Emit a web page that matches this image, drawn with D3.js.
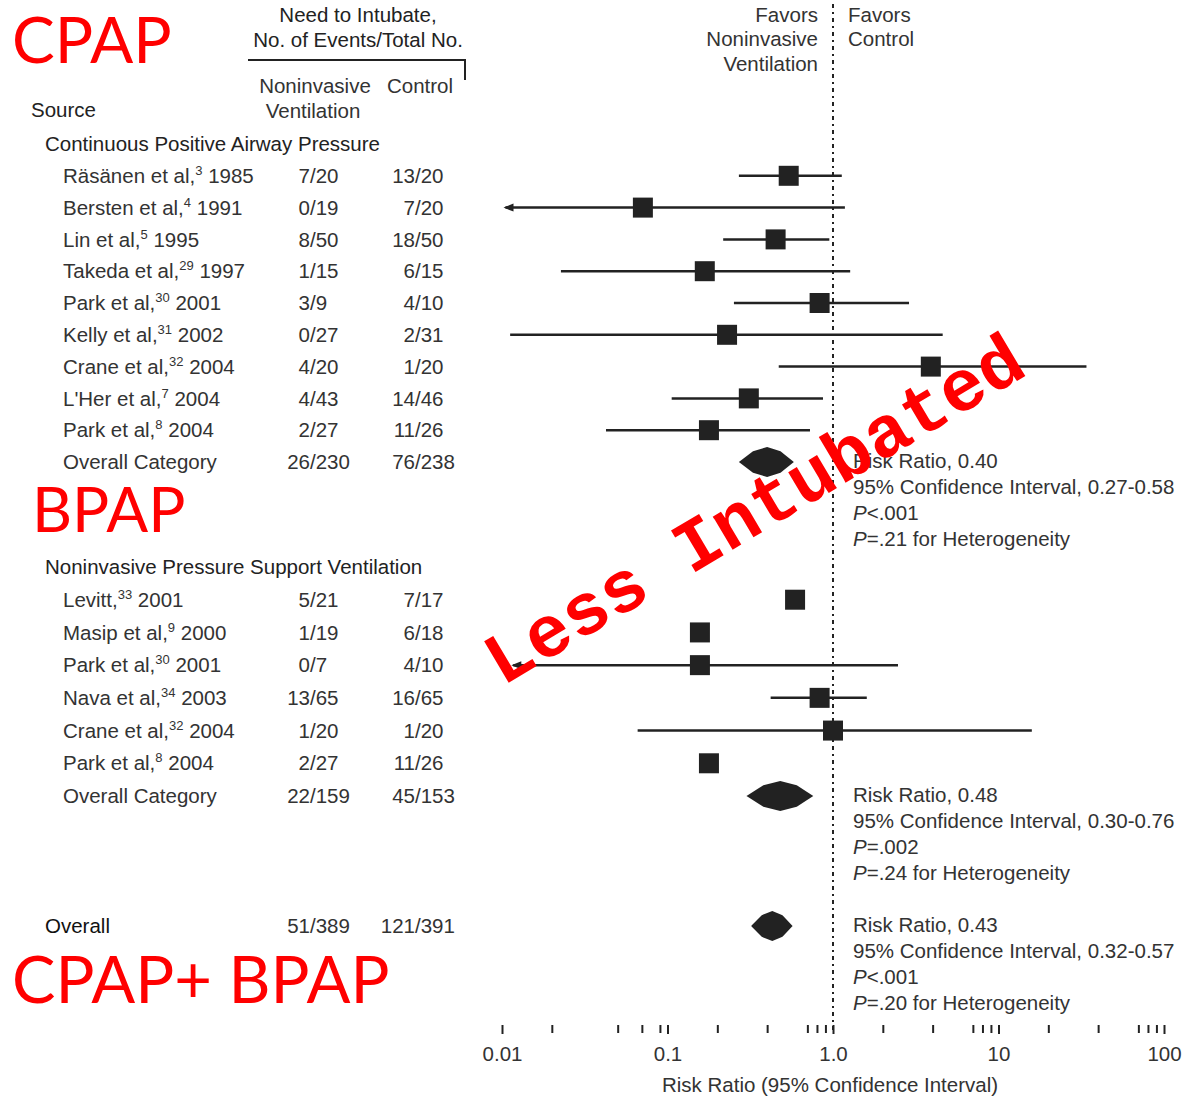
<!DOCTYPE html>
<html>
<head>
<meta charset="utf-8">
<script src="https://cdn.jsdelivr.net/npm/d3@7"></script>
<style>
  html, body { margin: 0; padding: 0; background: #fff; }
  svg { display: block; }
  .t { font-family: "Liberation Sans", Arial, sans-serif; font-size: 20.5px; fill: #333; }
  .red { font-family: Lato, "Noto Sans", sans-serif; fill: #ff0000; }
</style>
</head>
<body>
<script>
// ---------------- DATA ----------------
const cpapStudies = ["Räsänen et al,", "Bersten et al,", "Lin et al,", "Takeda et al,", "Park et al,", "Kelly et al,", "Crane et al,", "L'Her et al,", "Park et al,"];
const cpapRefs    = ["3", "4", "5", "29", "30", "31", "32", "7", "8"];
const cpapYears   = ["1985", "1991", "1995", "1997", "2001", "2002", "2004", "2004", "2004"];
const cpapNIV     = ["7/20", "0/19", "8/50", "1/15", "3/9", "0/27", "4/20", "4/43", "2/27"];
const cpapCtrl    = ["13/20", "7/20", "18/50", "6/15", "4/10", "2/31", "1/20", "14/46", "11/26"];
const cpapRR      = [0.54, 0.071, 0.45, 0.168, 0.83, 0.229, 3.9, 0.31, 0.178];
const cpapLo      = [0.27, 0.0105, 0.217, 0.0227, 0.252, 0.0112, 0.47, 0.106, 0.0425];
const cpapHi      = [1.13, 1.18, 0.95, 1.27, 2.88, 4.6, 34, 0.87, 0.726];
const cpapArrow   = [false, true, false, false, false, false, false, false, false];

const nppvStudies = ["Levitt,", "Masip et al,", "Park et al,", "Nava et al,", "Crane et al,", "Park et al,"];
const nppvRefs    = ["33", "9", "30", "34", "32", "8"];
const nppvYears   = ["2001", "2000", "2001", "2003", "2004", "2004"];
const nppvNIV     = ["5/21", "1/19", "0/7", "13/65", "1/20", "2/27"];
const nppvCtrl    = ["7/17", "6/18", "4/10", "16/65", "1/20", "11/26"];
const nppvRR      = [0.59, 0.157, 0.157, 0.83, 1.0, 0.178];
const nppvLo      = [null, null, 0.0117, 0.42, 0.066, null];
const nppvHi      = [null, null, 2.47, 1.6, 15.9, null];
const nppvArrow   = [false, false, true, false, false, false];

const summaryLabels = ["Overall Category", "Overall Category", "Overall"];
const summaryNIV    = ["26/230", "22/159", "51/389"];
const summaryCtrl   = ["76/238", "45/153", "121/391"];
const summaryRR     = [0.40, 0.48, 0.43];
const summaryLo     = [0.27, 0.30, 0.32];
const summaryHi     = [0.58, 0.76, 0.57];
const summaryRRText = ["0.40", "0.48", "0.43"];
const summaryCIText = ["0.27-0.58", "0.30-0.76", "0.32-0.57"];
const summaryPText  = ["<.001", "=.002", "<.001"];
const summaryHetText= ["=.21", "=.24", "=.20"];

const sectionTitles = ["Continuous Positive Airway Pressure", "Noninvasive Pressure Support Ventilation"];

const majorTicks = [0.01, 0.1, 1, 10, 100];
const majorTickLabels = ["0.01", "0.1", "1.0", "10", "100"];
const minorTicks = [0.02, 0.05, 0.07, 0.09,
                    0.2, 0.4, 0.7, 0.8, 0.9,
                    2, 4, 7, 8, 9,
                    20, 40, 70, 80, 90];

// ---------------- LAYOUT ----------------
const W = 1190, H = 1096;
const svg = d3.select("body").append("svg").attr("width", W).attr("height", H);
svg.append("rect").attr("width", W).attr("height", H).attr("fill", "#fff");

const x = d3.scaleLog().domain([0.01, 100]).range([502, 1164]);
// row index -> vertical position
const y = d3.scaleLinear().domain([-1, 9, 13, 20, 24]).range([144, 462, 567, 796, 926]);

const ink = "#222";
const col1 = 310, col2 = 415;

function txt(xp, yp, s, anchor, cls) {
  return svg.append("text").attr("class", cls || "t").attr("x", xp).attr("y", yp)
    .attr("dy", "0.35em").attr("text-anchor", anchor || "start").text(s);
}
function frac(slashX, yp, s, fill) {
  const [a, b] = s.split("/");
  txt(slashX, yp, a, "end").attr("fill", fill || null);
  txt(slashX, yp, "/" + b, "start").attr("fill", fill || null);
}
function studyLabel(yp, name, ref, year) {
  const t = svg.append("text").attr("class", "t").attr("x", 63).attr("y", yp).attr("dy", "0.35em");
  t.append("tspan").text(name);
  t.append("tspan").attr("font-size", "13px").attr("dy", "-8").text(ref);
  t.append("tspan").attr("dy", "8").text(" " + year);
}

// ---------------- HEADER ----------------
txt(358, 15, "Need to Intubate,", "middle").style("fill", "#222");
txt(358, 40, "No. of Events/Total No.", "middle").style("fill", "#222");
svg.append("path").attr("d", "M248,60H465V80").attr("fill", "none").attr("stroke", ink).attr("stroke-width", 2);
txt(315, 86, "Noninvasive", "middle");
txt(313, 111, "Ventilation", "middle");
txt(420, 86, "Control", "middle");
txt(31, 110, "Source", "start").style("fill", "#222");

txt(818, 15, "Favors", "end");
txt(818, 39, "Noninvasive", "end");
txt(818, 64, "Ventilation", "end");
txt(848, 15, "Favors", "start");
txt(848, 39, "Control", "start");

// reference line at RR = 1
svg.append("line").attr("x1", x(1)).attr("x2", x(1)).attr("y1", 4).attr("y2", 1034)
  .attr("stroke", ink).attr("stroke-width", 2).attr("stroke-dasharray", "4,4,2,4");

// ---------------- SECTIONS ----------------
txt(45, y(-1), sectionTitles[0], "start").style("fill", "#222");
txt(45, y(13), sectionTitles[1], "start").style("fill", "#222");

const sq = 20;
function drawStudy(idx, name, ref, year, niv, ctrl, rr, lo, hi, arrow) {
  const yp = y(idx);
  studyLabel(yp, name, ref, year);
  frac(col1, yp, niv);
  frac(col2, yp, ctrl);
  if (lo !== null && hi !== null) {
    svg.append("line").attr("x1", x(lo)).attr("x2", x(hi)).attr("y1", yp).attr("y2", yp)
      .attr("stroke", ink).attr("stroke-width", 2.5);
    if (arrow) {
      const ax = x(lo);
      svg.append("path").attr("d", `M${ax - 2},${yp}L${ax + 8},${yp - 4}L${ax + 8},${yp + 4}Z`).attr("fill", ink);
    }
  }
  svg.append("rect").attr("x", x(rr) - sq / 2).attr("y", yp - sq / 2).attr("width", sq).attr("height", sq).attr("fill", ink);
}
cpapStudies.forEach((n, i) => drawStudy(i, n, cpapRefs[i], cpapYears[i], cpapNIV[i], cpapCtrl[i], cpapRR[i], cpapLo[i], cpapHi[i], cpapArrow[i]));
nppvStudies.forEach((n, i) => drawStudy(14 + i, n, nppvRefs[i], nppvYears[i], nppvNIV[i], nppvCtrl[i], nppvRR[i], nppvLo[i], nppvHi[i], nppvArrow[i]));

// summaries
const summaryRows = [9, 20, 24];
summaryRows.forEach((r, i) => {
  const yp = y(r);
  const isAll = i === 2;
  const lab = txt(isAll ? 45 : 63, yp, summaryLabels[i], "start");
  if (isAll) lab.style("fill", "#111");
  frac(col1, yp, summaryNIV[i], isAll ? "#111" : null);
  frac(col2, yp, summaryCtrl[i], isAll ? "#111" : null);
  const l = x(summaryLo[i]), c = x(summaryRR[i]), h = x(summaryHi[i]);
  const hh = 15;
  svg.append("path")
    .attr("d", `M${l},${yp}L${(l + c) / 2},${yp - hh * 0.72}L${c},${yp - hh}L${(c + h) / 2},${yp - hh * 0.72}L${h},${yp}L${(c + h) / 2},${yp + hh * 0.72}L${c},${yp + hh}L${(l + c) / 2},${yp + hh * 0.72}Z`)
    .attr("fill", ink);
  const tx = 853, t0 = yp - 1;
  txt(tx, t0, "Risk Ratio, " + summaryRRText[i]);
  txt(tx, t0 + 26, "95% Confidence Interval, " + summaryCIText[i]);
  const p1 = txt(tx, t0 + 52, "");
  p1.append("tspan").attr("font-style", "italic").text("P");
  p1.append("tspan").text(summaryPText[i]);
  const p2 = txt(tx, t0 + 78, "");
  p2.append("tspan").attr("font-style", "italic").text("P");
  p2.append("tspan").text(summaryHetText[i] + " for Heterogeneity");
});

// ---------------- AXIS ----------------
const axisY = 1025;
const majorAxis = d3.axisBottom(x).tickValues(majorTicks).tickSize(9).tickPadding(12)
  .tickFormat((d, i) => majorTickLabels[i]);
const gMaj = svg.append("g").attr("transform", `translate(0,${axisY})`).call(majorAxis);
const minorAxis = d3.axisBottom(x).tickValues(minorTicks).tickSize(8).tickFormat("");
const gMin = svg.append("g").attr("transform", `translate(0,${axisY})`).call(minorAxis);
[gMaj, gMin].forEach(g => {
  g.select(".domain").remove();
  g.selectAll(".tick line").attr("stroke", ink).attr("stroke-width", 2);
  g.selectAll(".tick text").attr("class", "t").attr("font-size", null).attr("font-family", null).style("fill", "#333");
});
txt(830, 1085, "Risk Ratio (95% Confidence Interval)", "middle");

// ---------------- RED ANNOTATIONS ----------------
svg.append("text").attr("class", "red").attr("x", 12).attr("y", 63).attr("font-size", 64).text("CPAP");
svg.append("text").attr("class", "red").attr("x", 32).attr("y", 532).attr("font-size", 62).text("BPAP");
svg.append("text").attr("class", "red").attr("x", 12).attr("y", 1003).attr("font-size", 65).text("CPAP+ BPAP");
svg.append("text")
  .attr("transform", "translate(766,530) rotate(-30.7)")
  .attr("text-anchor", "middle")
  .attr("font-family", "'Liberation Mono', 'DejaVu Sans Mono', monospace")
  .attr("font-weight", "bold").attr("font-size", 73).attr("fill", "#ff0000")
  .text("Less Intubated");
</script>
</body>
</html>
